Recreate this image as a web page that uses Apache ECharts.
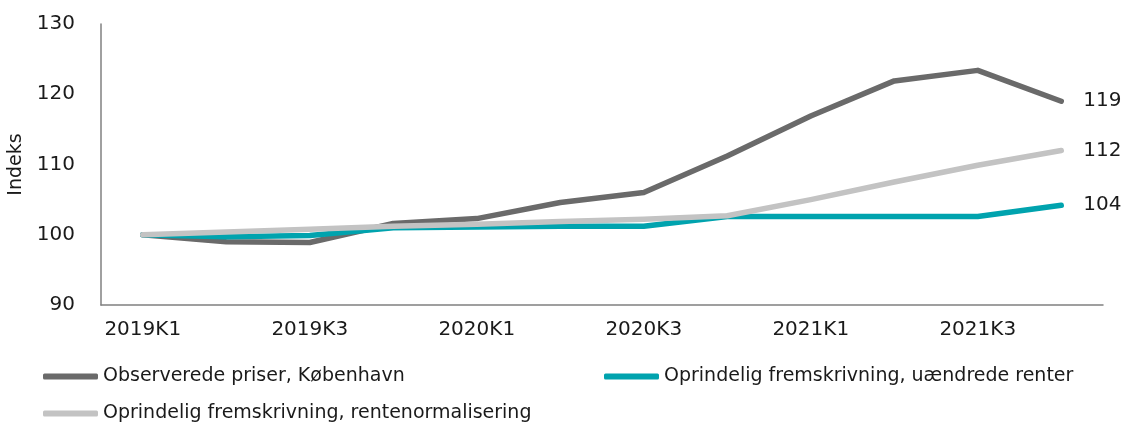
<!DOCTYPE html>
<html>
<head>
<meta charset="utf-8">
<script src="https://cdn.jsdelivr.net/npm/echarts@6/dist/echarts.min.js"></script>
<style>
  html, body { margin: 0; padding: 0; background: #fff; }
  #chart { width: 1129px; height: 423px; }
</style>
</head>
<body>
<div id="chart"></div>
<script>
const quarters = ['2019K1', '2019K2', '2019K3', '2019K4', '2020K1', '2020K2', '2020K3', '2020K4', '2021K1', '2021K2', '2021K3', '2021K4'];

const observed = [100, 99.0, 98.9, 101.6, 102.3, 104.6, 106.0, 111.2, 116.9, 121.9, 123.4, 119.0];
const unchangedRates = [100, 99.7, 99.9, 101.0, 101.1, 101.2, 101.2, 102.6, 102.6, 102.6, 102.6, 104.2];
const normalisedRates = [100, 100.4, 100.8, 101.2, 101.5, 101.9, 102.2, 102.7, 105.0, 107.5, 109.9, 112.0];

const seriesNames = [
    'Observerede priser, København',
    'Oprindelig fremskrivning, uændrede renter',
    'Oprindelig fremskrivning, rentenormalisering'
];
const colors = ['#6a6a6a', '#00a3ae', '#c3c3c3'];

const FONT = 'DejaVu Sans';
const TEXT = '#1a1a1a';

const chart = echarts.init(document.getElementById('chart'), null, { renderer: 'canvas' });

const legendBase = {
    icon: 'roundRect',
    itemWidth: 55,
    itemHeight: 6,
    padding: 0,
    textStyle: { fontFamily: FONT, fontSize: 19, color: TEXT }
};

const makeLine = (name, data, color) => ({
    name,
    type: 'line',
    data,
    symbol: 'none',
    lineStyle: { width: 5.5, color, cap: 'round', join: 'round' },
    itemStyle: { color },
    endLabel: {
        show: true,
        distance: 22,
        fontFamily: FONT,
        fontSize: 20,
        color: TEXT,
        formatter: p => Math.round(p.value)
    }
});

const option = {
    animation: false,
    color: colors,
    grid: { left: 101, right: 26, top: 24, bottom: 118, outerBoundsMode: 'none', containLabel: false },
    legend: [
        Object.assign({}, legendBase, { data: [seriesNames[0]], left: 43, top: 367 }),
        Object.assign({}, legendBase, { data: [seriesNames[1]], left: 604, top: 367 }),
        Object.assign({}, legendBase, { data: [seriesNames[2]], left: 43, top: 404 })
    ],
    xAxis: {
        type: 'category',
        data: quarters,
        boundaryGap: true,
        axisLine: { lineStyle: { color: '#808080', width: 1.5 } },
        axisTick: { show: false },
        axisLabel: {
            interval: 1,
            margin: 15,
            fontFamily: FONT,
            fontSize: 20,
            color: TEXT
        }
    },
    yAxis: {
        type: 'value',
        min: 90,
        max: 130,
        interval: 10,
        name: 'Indeks',
        nameLocation: 'middle',
        nameGap: 74,
        nameTextStyle: { fontFamily: FONT, fontSize: 19, color: TEXT },
        axisLine: { show: true, lineStyle: { color: '#808080', width: 1.5 } },
        axisTick: { show: false },
        splitLine: { show: false },
        axisLabel: {
            margin: 26,
            fontFamily: FONT,
            fontSize: 20,
            color: TEXT
        }
    },
    series: [
        makeLine(seriesNames[0], observed, colors[0]),
        makeLine(seriesNames[1], unchangedRates, colors[1]),
        makeLine(seriesNames[2], normalisedRates, colors[2])
    ]
};

chart.setOption(option);
</script>
</body>
</html>
